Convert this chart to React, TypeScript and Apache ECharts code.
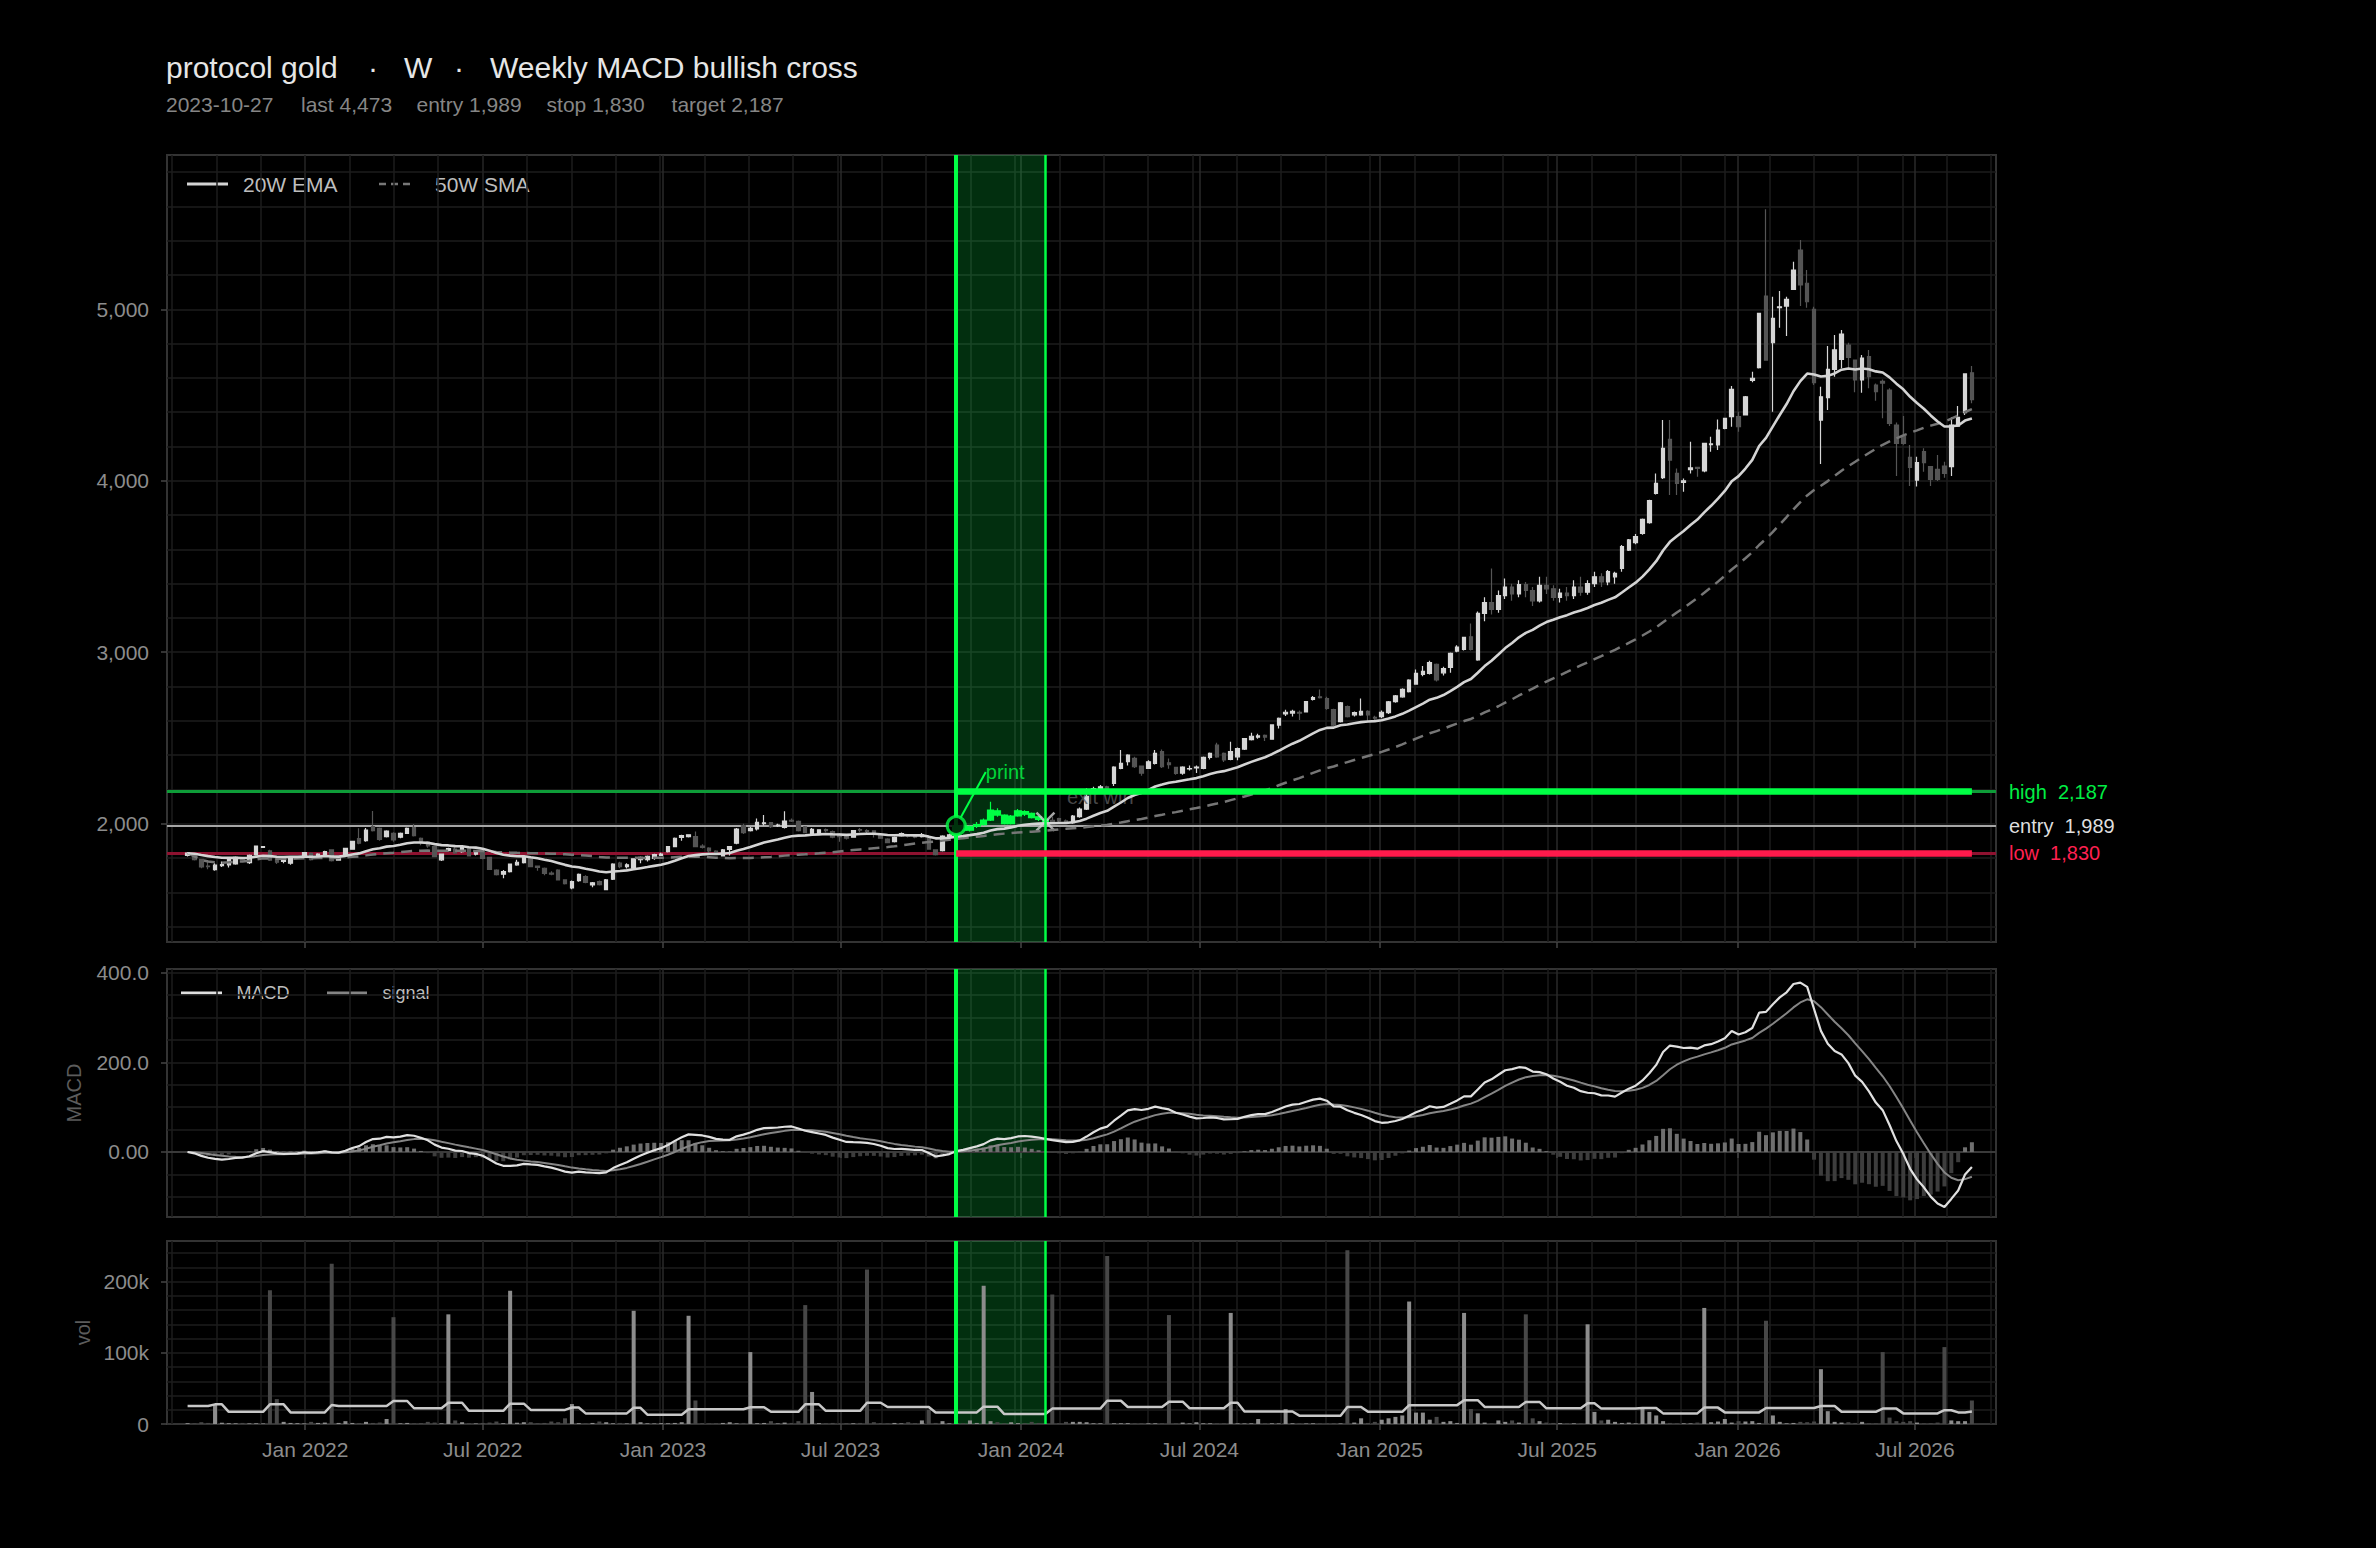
import React, { useEffect, useRef } from "react";
import * as echarts from "echarts";

// ---------------- data ----------------
const FIRST_WEEK = "2021-09-03";
const ENTRY_DATE = "2023-10-27";
const EXIT_DATE = "2024-01-26";
const entryPrice = 1989;
const stopPrice = 1830;
const targetPrice = 2187;
const lastPrice = 4473;
const exitPrice = 2012;

const TITLE_NAME = "protocol gold";
const TITLE_TF = "W";
const TITLE_SIGNAL = "Weekly MACD bullish cross";

const openP = [
  1815, 1812, 1792, 1752, 1732, 1755, 1760, 1765, 1800, 1773,
  1820, 1862, 1841, 1798, 1780, 1770, 1801, 1808, 1827, 1804,
  1816, 1847, 1788, 1812, 1851, 1913, 1901, 1983, 1973, 1925,
  1944, 1921, 1944, 1977, 1915, 1893, 1866, 1789, 1843, 1852,
  1837, 1862, 1822, 1837, 1803, 1730, 1705, 1720, 1760, 1773,
  1796, 1752, 1740, 1712, 1730, 1672, 1625, 1668, 1692, 1643,
  1662, 1615, 1676, 1770, 1750, 1740, 1790, 1790, 1797, 1815,
  1837, 1866, 1920, 1925, 1925, 1870, 1858, 1840, 1812, 1850,
  1886, 1989, 1960, 1969, 2000, 2006, 1988, 1979, 2020, 2014,
  1982, 1944, 1944, 1966, 1954, 1940, 1930, 1921, 1965, 1960,
  1958, 1935, 1910, 1895, 1930, 1930, 1930, 1925, 1915, 1847,
  1843, 1925, 1935, 1987, 1962, 1985, 1995, 2021, 2075, 2050,
  2000, 2045, 2070, 2060, 2040, 2025, 2020, 2030, 2016, 2006,
  2041, 2085, 2190, 2205, 2215, 2235, 2323, 2362, 2381, 2336,
  2323, 2352, 2420, 2355, 2328, 2295, 2320, 2325, 2323, 2387,
  2458, 2410, 2375, 2390, 2435, 2490, 2505, 2515, 2493, 2575,
  2640, 2645, 2650, 2652, 2725, 2740, 2730, 2665, 2595, 2683,
  2635, 2635, 2655, 2620, 2625, 2648, 2712, 2740, 2770, 2814,
  2870, 2877, 2930, 2880, 2912, 3007, 3017, 3090, 2955, 3227,
  3290, 3250, 3330, 3380, 3340, 3395, 3360, 3300, 3390, 3370,
  3320, 3345, 3330, 3380, 3350, 3400, 3440, 3410, 3440, 3489,
  3596, 3639, 3693, 3756, 3927, 4018, 4242, 4043, 3990, 4065,
  4078, 4057, 4210, 4209, 4306, 4374, 4374, 4384, 4585, 4660,
  5077, 4805, 5010, 5019, 5116, 5346, 5152, 5000, 4354, 4485,
  4650, 4708, 4792, 4704, 4588, 4724, 4558, 4580, 4529, 4325,
  4257, 4137, 4004, 4170, 4082, 4067, 4086, 4082, 4319, 4397,
  4630,
];

const highP = [
  1835, 1818, 1795, 1778, 1770, 1780, 1795, 1808, 1805, 1820,
  1872, 1870, 1848, 1800, 1797, 1810, 1812, 1834, 1832, 1828,
  1842, 1850, 1806, 1860, 1900, 1973, 1975, 2074, 1978, 1962,
  1950, 1948, 1978, 1998, 1920, 1898, 1870, 1826, 1860, 1862,
  1866, 1866, 1840, 1840, 1806, 1735, 1730, 1768, 1790, 1808,
  1800, 1756, 1745, 1722, 1735, 1676, 1668, 1710, 1700, 1660,
  1668, 1678, 1770, 1778, 1770, 1798, 1808, 1815, 1825, 1830,
  1870, 1920, 1935, 1938, 1955, 1880, 1862, 1845, 1852, 1870,
  1975, 2000, 1980, 2030, 2050, 2010, 2000, 2072, 2030, 2018,
  1986, 1975, 1968, 1972, 1960, 1945, 1935, 1962, 1975, 1968,
  1962, 1940, 1915, 1925, 1948, 1935, 1938, 1945, 1920, 1850,
  1932, 1942, 1995, 1995, 1990, 2010, 2030, 2128, 2090, 2055,
  2050, 2085, 2078, 2065, 2045, 2030, 2040, 2035, 2025, 2050,
  2095, 2206, 2215, 2225, 2222, 2335, 2430, 2405, 2390, 2340,
  2370, 2430, 2433, 2380, 2330, 2335, 2340, 2340, 2392, 2415,
  2472, 2415, 2478, 2445, 2500, 2530, 2525, 2520, 2580, 2620,
  2665, 2665, 2660, 2715, 2745, 2783, 2740, 2670, 2710, 2690,
  2655, 2730, 2662, 2630, 2660, 2715, 2750, 2790, 2842, 2900,
  2920, 2950, 2935, 2915, 2998, 3040, 3090, 3168, 3237, 3320,
  3489, 3360, 3430, 3400, 3420, 3410, 3380, 3440, 3440, 3390,
  3370, 3380, 3420, 3440, 3420, 3470, 3460, 3480, 3470, 3625,
  3660, 3690, 3780, 3890, 4043, 4354, 4354, 4072, 4013, 4228,
  4080, 4222, 4257, 4358, 4368, 4553, 4403, 4495, 4636, 4980,
  5583, 5074, 5107, 5074, 5278, 5404, 5229, 5015, 4549, 4786,
  4850, 4879, 4805, 4704, 4733, 4763, 4568, 4591, 4539, 4340,
  4378, 4209, 4140, 4189, 4086, 4150, 4111, 4370, 4436, 4623,
  4670,
];

const lowP = [
  1808, 1785, 1740, 1734, 1725, 1748, 1745, 1760, 1785, 1765,
  1815, 1858, 1782, 1765, 1770, 1760, 1795, 1804, 1786, 1800,
  1810, 1780, 1784, 1808, 1848, 1880, 1895, 1955, 1900, 1920,
  1895, 1915, 1940, 1925, 1875, 1860, 1805, 1783, 1838, 1824,
  1830, 1808, 1815, 1793, 1730, 1698, 1682, 1715, 1755, 1768,
  1746, 1725, 1700, 1700, 1668, 1645, 1618, 1662, 1652, 1630,
  1640, 1612, 1672, 1740, 1738, 1735, 1770, 1780, 1790, 1812,
  1832, 1862, 1900, 1920, 1862, 1856, 1825, 1818, 1808, 1815,
  1880, 1940, 1955, 1960, 1990, 1975, 1980, 1972, 2010, 1955,
  1944, 1938, 1940, 1950, 1915, 1895, 1908, 1918, 1950, 1945,
  1920, 1912, 1886, 1890, 1925, 1920, 1915, 1920, 1848, 1815,
  1838, 1920, 1930, 1955, 1955, 1975, 1990, 2015, 2040, 1995,
  1995, 2040, 2045, 2030, 2015, 2000, 2005, 2005, 1998, 2000,
  2035, 2080, 2180, 2195, 2190, 2220, 2318, 2340, 2325, 2280,
  2320, 2345, 2325, 2320, 2285, 2285, 2310, 2295, 2318, 2375,
  2385, 2360, 2370, 2370, 2430, 2485, 2495, 2482, 2490, 2555,
  2628, 2625, 2605, 2648, 2718, 2730, 2665, 2570, 2590, 2620,
  2625, 2630, 2595, 2605, 2615, 2640, 2705, 2735, 2765, 2810,
  2860, 2870, 2830, 2865, 2880, 3000, 3010, 3010, 2950, 3180,
  3220, 3230, 3310, 3300, 3320, 3320, 3270, 3290, 3340, 3300,
  3290, 3300, 3310, 3330, 3335, 3380, 3380, 3390, 3400, 3470,
  3590, 3630, 3685, 3750, 3920, 4010, 3917, 3917, 3936, 4043,
  4024, 4050, 4170, 4179, 4300, 4315, 4286, 4380, 4575, 4655,
  4700, 4403, 4893, 4844, 5116, 5019, 5009, 4558, 4098, 4413,
  4607, 4656, 4656, 4516, 4514, 4539, 4467, 4364, 4319, 4028,
  4210, 3969, 3966, 4053, 3969, 3999, 4018, 4028, 4315, 4384,
  4452,
];

const closeP = [
  1828, 1790, 1748, 1750, 1758, 1762, 1790, 1804, 1790, 1816,
  1870, 1866, 1788, 1775, 1792, 1808, 1808, 1831, 1790, 1823,
  1837, 1785, 1800, 1856, 1897, 1886, 1963, 1960, 1909, 1957,
  1905, 1944, 1973, 1930, 1890, 1870, 1808, 1823, 1855, 1830,
  1860, 1812, 1835, 1798, 1734, 1703, 1720, 1765, 1775, 1804,
  1750, 1745, 1710, 1705, 1672, 1650, 1662, 1704, 1657, 1655,
  1645, 1672, 1765, 1750, 1760, 1795, 1803, 1810, 1820, 1822,
  1866, 1915, 1930, 1935, 1866, 1862, 1842, 1823, 1847, 1866,
  1969, 1948, 1973, 2008, 2005, 1983, 1992, 2015, 2015, 1960,
  1948, 1967, 1964, 1960, 1921, 1925, 1915, 1959, 1962, 1955,
  1940, 1915, 1890, 1920, 1942, 1927, 1922, 1935, 1852, 1820,
  1928, 1935, 1989, 1962, 1985, 1995, 2021, 2080, 2050, 2000,
  2045, 2075, 2055, 2035, 2025, 2012, 2012, 2016, 2010, 2045,
  2085, 2160, 2205, 2215, 2200, 2330, 2352, 2400, 2332, 2295,
  2361, 2410, 2332, 2345, 2293, 2330, 2322, 2330, 2387, 2410,
  2390, 2372, 2420, 2438, 2497, 2510, 2512, 2505, 2576, 2615,
  2650, 2655, 2645, 2712, 2735, 2735, 2672, 2575, 2705, 2625,
  2648, 2655, 2635, 2615, 2650, 2711, 2745, 2783, 2838, 2877,
  2888, 2940, 2838, 2905, 2993, 3030, 3087, 3017, 3227, 3290,
  3250, 3330, 3380, 3340, 3395, 3360, 3300, 3390, 3370, 3320,
  3345, 3330, 3380, 3350, 3400, 3440, 3410, 3470, 3460, 3616,
  3655, 3674, 3775, 3884, 3985, 4189, 4121, 3985, 4000, 4075,
  4072, 4218, 4215, 4296, 4364, 4533, 4315, 4490, 4598, 4976,
  4704, 4947, 5015, 5058, 5229, 5142, 5044, 4572, 4490, 4650,
  4763, 4856, 4720, 4588, 4716, 4607, 4520, 4570, 4335, 4218,
  4218, 4078, 4106, 4106, 4008, 4008, 4043, 4325, 4370, 4623,
  4473,
];

const volume = [
  1200, 900, 2500, 1500, 27000, 1800, 1200, 1000, 1500, 900,
  1200, 800, 188000, 35000, 3000, 1500, 1200, 900, 3000, 1500,
  2000, 225000, 1500, 4000, 1500, 1200, 3000, 1500, 2000, 7000,
  150000, 1000, 1500, 800, 1200, 3000, 2000, 1000, 154000, 5000,
  2500, 1000, 800, 1500, 2000, 3500, 1200, 187000, 1800, 2500,
  2500, 1000, 1500, 3500, 2500, 8000, 28000, 1200, 800, 1500,
  3500, 2500, 1000, 1500, 800, 159000, 2500, 1000, 800, 1200,
  1000, 1500, 2500, 152000, 33000, 1200, 800, 1000, 1500, 2500,
  1000, 1500, 101000, 1200, 1500, 4000, 800, 2000, 1500, 4000,
  167000, 45000, 1200, 1000, 1500, 800, 1200, 1000, 1500, 217000,
  2500, 1200, 1000, 1500, 800, 2500, 1200, 5000, 20000, 1500,
  4000, 1000, 1500, 1200, 5000, 1500, 194000, 4000, 2500, 1000,
  2500, 1200, 1000, 3000, 1500, 800, 182000, 1000, 3000, 3000,
  3000, 2500, 1000, 1000, 236000, 1000, 1000, 1200, 800, 1000,
  1000, 1000, 1000, 153000, 1000, 2000, 800, 2500, 1000, 1000,
  800, 1000, 156000, 1000, 800, 1000, 7000, 1000, 1000, 800,
  21000, 1000, 1000, 800, 1000, 800, 1000, 1200, 800, 244000,
  2000, 8000, 1500, 3000, 6000, 8000, 10000, 12000, 172000, 16000,
  16000, 6000, 10000, 3000, 4000, 1500, 156000, 21000, 15000, 2000,
  800, 5000, 3000, 5000, 2000, 154000, 8000, 4000, 2000, 1500,
  1200, 1000, 1000, 800, 140000, 17000, 5000, 6000, 3000, 1500,
  2000, 1000, 23000, 17000, 12000, 4000, 1500, 1000, 1000, 800,
  2000, 163000, 2500, 3500, 7000, 2000, 4000, 3500, 4000, 1500,
  145000, 12000, 3000, 1000, 1500, 3000, 2500, 3500, 77000, 18000,
  3000, 2000, 2500, 1500, 3000, 1000, 800, 101000, 9000, 4000,
  3000, 4000, 2000, 800, 1000, 2000, 108000, 5000, 4000, 4000,
  33000,
];

// volume average line
const volumeAvg = [
  25200, 25200, 25200, 25200, 27600, 27600, 17100, 17100, 17100, 17100,
  17100, 17100, 27600, 27600, 27600, 16300, 16300, 16300, 16300, 16300,
  16300, 26700, 25200, 25200, 25200, 25200, 25200, 25200, 25200, 25200,
  32300, 32300, 32300, 22100, 22100, 22100, 22100, 22100, 29900, 29900,
  29900, 18500, 18500, 18500, 18500, 18500, 18500, 28600, 28600, 28600,
  19800, 19800, 19800, 19800, 19800, 19800, 23100, 23100, 14900, 14900,
  14900, 14900, 14900, 14900, 14900, 22700, 22700, 13100, 13100, 13100,
  13100, 13100, 13100, 20800, 20800, 20800, 20800, 20800, 20800, 20800,
  20800, 20800, 23500, 23500, 23500, 17100, 17100, 17100, 17100, 17100,
  27600, 27600, 27600, 18500, 18500, 18500, 18500, 18500, 18500, 29900,
  29900, 29900, 23900, 23900, 23900, 23900, 23900, 23900, 23900, 16300,
  16300, 16300, 16300, 16300, 16300, 16300, 24400, 24400, 24400, 14000,
  14000, 14000, 14000, 14000, 14000, 14000, 21600, 21600, 21600, 21600,
  21600, 21600, 21600, 21600, 32700, 32700, 32700, 23900, 23900, 23900,
  23900, 23900, 23900, 31400, 31400, 31400, 22100, 22100, 22100, 22100,
  22100, 22100, 29900, 29900, 17600, 17600, 17600, 17600, 17600, 17600,
  17600, 17600, 11700, 11700, 11700, 11700, 11700, 11700, 11700, 23900,
  23900, 23900, 17100, 17100, 17100, 17100, 17100, 17100, 26500, 26500,
  26500, 26500, 26500, 26500, 26500, 26500, 33500, 33500, 33500, 23900,
  23900, 23900, 23900, 23900, 23900, 31000, 31000, 31000, 22000, 22000,
  22000, 22000, 22000, 22000, 29000, 29000, 21600, 21600, 21600, 21600,
  21600, 21600, 22500, 22500, 22500, 14900, 14900, 14900, 14900, 14900,
  14900, 23000, 23000, 23000, 16300, 16300, 16300, 16300, 16300, 16300,
  22500, 22500, 22500, 22500, 22500, 22500, 22500, 22500, 25200, 25200,
  25200, 17100, 17100, 17100, 17100, 17100, 17100, 21600, 21600, 21600,
  14900, 14900, 14900, 14900, 14900, 14900, 19400, 19400, 16300, 16300,
  17600,
];

const xLabelDates = [
  "2022-01-01", "2022-07-01", "2023-01-01", "2023-07-01", "2024-01-01",
  "2024-07-01", "2025-01-01", "2025-07-01", "2026-01-01", "2026-07-01",
];
const priceTicks = [2000, 3000, 4000, 5000];
const macdTicks = [0, 200, 400];
const volTicks = [0, 100000, 200000];

// ---------------- helpers ----------------
const FONT = '"Liberation Sans", Arial, Helvetica, sans-serif';
const DAY = 86400000;
const toT = (s: string) => Date.parse(s + "T00:00:00Z");
const fmt = (v: number) => v.toLocaleString("en-US");
const MONTHS = ["Jan", "Feb", "Mar", "Apr", "May", "Jun", "Jul", "Aug", "Sep", "Oct", "Nov", "Dec"];

function ema(values: number[], n: number) {
  const k = 2 / (n + 1);
  const out: number[] = [];
  values.forEach((v, i) => out.push(i === 0 ? v : v * k + out[i - 1] * (1 - k)));
  return out;
}
function sma(values: number[], n: number) {
  return values.map((_, i) => {
    const w = values.slice(Math.max(0, i - n + 1), i + 1);
    return w.reduce((a, b) => a + b, 0) / w.length;
  });
}
function steps(from: number, to: number, step: number) {
  const out: number[] = [];
  for (let v = from; v <= to + 1e-9; v += step) out.push(v);
  return out;
}

const GREEN = "#00ff44";
const RED = "#ff1a4b";
const LABEL_COLOR = "#8c8c8c";
const TICK_COLOR = "#444";
const MAJOR_GRID = "#2a2a2a";
const MINOR_GRID = "#1c1c1c";

function buildOption() {
  const t0 = toT(FIRST_WEEK);
  const weeks = closeP.map((_, i) => t0 + i * 7 * DAY);
  const entryT = toT(ENTRY_DATE);
  const exitT = toT(EXIT_DATE);
  const lastT = weeks[weeks.length - 1];
  const entryIdx = weeks.indexOf(entryT);
  const exitIdx = weeks.indexOf(exitT);

  const X_MIN = toT("2021-08-13");
  const X_MAX = toT("2026-09-21") + 14 * 3600000;
  const majorX = xLabelDates.map(toT);
  const minorX: number[] = [];
  for (let t = toT("2021-08-18"); t < X_MAX; t += 45.26 * DAY) minorX.push(t);

  const ema20 = ema(closeP, 20);
  const sma50 = sma(closeP, 50);
  const e12 = ema(closeP, 12);
  const e26 = ema(closeP, 26);
  const macd = e12.map((v, i) => v - e26[i]);
  const signal = ema(macd, 9);
  const hist = macd.map((v, i) => v - signal[i]);

  const isTrade = (i: number) => i >= entryIdx && i <= exitIdx;
  const candles: any[] = [];
  const tradeCandles: any[] = [];
  weeks.forEach((t, i) => {
    const item = [t, openP[i], closeP[i], lowP[i], highP[i]];
    (isTrade(i) ? tradeCandles : candles).push(item);
  });

  const xAxisPair = (gridIndex: number, showLabels: boolean) => [
    {
      type: "value", gridIndex, min: X_MIN, max: X_MAX, position: "bottom",
      axisLine: { show: false },
      axisTick: { show: true, customValues: majorX, length: 6, lineStyle: { color: TICK_COLOR, width: 1.5 } },
      axisLabel: {
        show: showLabels, customValues: majorX, color: LABEL_COLOR, fontSize: 21, margin: 15, fontFamily: FONT,
        formatter: (v: number) => { const d = new Date(v); return `${MONTHS[d.getUTCMonth()]} ${d.getUTCFullYear()}`; },
      },
      splitLine: { show: true, lineStyle: { color: MAJOR_GRID, width: 1.5 } },
    },
    {
      type: "value", gridIndex, min: X_MIN, max: X_MAX, position: "top",
      axisLine: { show: false },
      axisTick: { show: false, customValues: minorX },
      axisLabel: { show: false },
      splitLine: { show: true, lineStyle: { color: MINOR_GRID, width: 1.5 } },
    },
  ];

  const yAxisPair = (gridIndex: number, min: number, max: number, ticks: number[], gridVals: number[], formatter: (v: number) => string, name?: string, nameGap?: number) => [
    {
      type: "value", gridIndex, min, max, position: "left",
      axisLine: { show: false },
      axisTick: { show: true, customValues: ticks, length: 6, lineStyle: { color: TICK_COLOR, width: 1.5 } },
      axisLabel: { customValues: ticks, formatter, color: LABEL_COLOR, fontSize: 21, margin: 18, fontFamily: FONT },
      splitLine: { show: false },
      name, nameLocation: "middle", nameRotate: 90, nameGap,
      nameTextStyle: { color: "#5c5c5c", fontSize: 20, fontFamily: FONT },
    },
    {
      type: "value", gridIndex, min, max, position: "left",
      axisLine: { show: false },
      axisTick: { show: false, customValues: gridVals },
      axisLabel: { show: false },
      splitLine: { show: true, lineStyle: { color: MINOR_GRID, width: 1.5 } },
    },
  ];

  const bandSeries = (xi: number, yi: number) => ({
    type: "line", xAxisIndex: xi, yAxisIndex: yi, data: [], silent: true, symbol: "none",
    markArea: {
      silent: true, z: 1,
      itemStyle: { color: "rgba(10,255,80,0.185)" },
      data: [[{ xAxis: entryT }, { xAxis: exitT }]],
    },
    markLine: {
      silent: true, z: 6, symbol: ["none", "none"], label: { show: false },
      lineStyle: { type: "solid" },
      data: [
        { xAxis: entryT, lineStyle: { color: GREEN, width: 4, type: "solid" } },
        { xAxis: exitT, lineStyle: { color: GREEN, width: 2.5, type: "solid" } },
      ],
    },
  });

  const gridBase = { left: 167, width: 1829, show: true, borderColor: "#333", borderWidth: 2, backgroundColor: "transparent", containLabel: false, outerBoundsMode: "none" };

  const txt = (x: number, y: number, text: string, fill: string, fontSize: number, align = "left") => ({
    type: "text", x, y, silent: true,
    style: { text, fill, fontSize, fontFamily: FONT, align, verticalAlign: "middle" },
  });
  const seg = (x1: number, x2: number, y: number, stroke: string, lineWidth: number, lineDash?: number[]) => ({
    type: "line", silent: true, shape: { x1, y1: y, x2, y2: y },
    style: { stroke, lineWidth, lineDash },
  });

  return {
    animation: false,
    backgroundColor: "#000",
    textStyle: { fontFamily: FONT },
    grid: [
      { ...gridBase, top: 155, height: 787 },
      { ...gridBase, top: 969, height: 248 },
      { ...gridBase, top: 1241, height: 183 },
    ],
    xAxis: [...xAxisPair(0, false), ...xAxisPair(1, false), ...xAxisPair(2, true)],
    yAxis: [
      ...yAxisPair(0, 1310, 5900, priceTicks, steps(1400, 5800, 200), (v) => fmt(v)),
      ...yAxisPair(1, -145, 408, macdTicks, steps(-100, 400, 50), (v) => (v === 0 ? "0.00" : v.toFixed(1)), "MACD", 83),
      ...yAxisPair(2, 0, 257000, volTicks, steps(20000, 240000, 20000), (v) => (v === 0 ? "0" : `${v / 1000}k`), "vol", 74),
    ],
    graphic: [
      txt(166, 67, TITLE_NAME, "#e6e6e6", 30),
      txt(373, 67, "·", "#e6e6e6", 30, "center"),
      txt(404, 67, TITLE_TF, "#e6e6e6", 30),
      txt(459, 67, "·", "#e6e6e6", 30, "center"),
      txt(490, 67, TITLE_SIGNAL, "#e6e6e6", 30),
      txt(166, 104, ENTRY_DATE, "#868686", 21),
      txt(301, 104, `last ${fmt(lastPrice)}`, "#868686", 21),
      txt(416.5, 104, `entry ${fmt(entryPrice)}`, "#868686", 21),
      txt(546.6, 104, `stop ${fmt(stopPrice)}`, "#868686", 21),
      txt(671.6, 104, `target ${fmt(targetPrice)}`, "#868686", 21),
      seg(187, 228, 184, "#d4d4d4", 3),
      txt(243, 184, "20W EMA", "#bdbdbd", 21),
      seg(379, 415, 184, "#777", 2.5, [7, 5]),
      txt(435, 184, "50W SMA", "#bdbdbd", 21),
      seg(181, 222, 993, "#e0e0e0", 3),
      txt(236.5, 993, "MACD", "#bdbdbd", 18),
      seg(327, 367, 993, "#858585", 3),
      txt(382.5, 993, "signal", "#bdbdbd", 18),
    ],
    series: [
      // ---- price panel ----
      bandSeries(0, 0),
      {
        type: "line", xAxisIndex: 0, yAxisIndex: 0, data: [], silent: true, symbol: "none",
        markLine: {
          silent: true, z: 1.5, symbol: ["none", "none"],
          label: { show: true, position: "end", distance: 13, fontSize: 20, fontFamily: FONT },
          data: [
            { yAxis: targetPrice, lineStyle: { color: "#0e9c38", width: 3, type: "solid" }, label: { formatter: `high\u00a0\u00a0${fmt(targetPrice)}`, color: "#00ee44" } },
            { yAxis: entryPrice, lineStyle: { color: "#a6a6a6", width: 2, type: "solid" }, label: { formatter: `entry\u00a0\u00a0${fmt(entryPrice)}`, color: "#dedede" } },
            { yAxis: stopPrice, lineStyle: { color: "#8e1230", width: 3, type: "solid" }, label: { formatter: `low\u00a0\u00a0${fmt(stopPrice)}`, color: "#ff2050" } },
          ],
        },
      },
      {
        type: "candlestick", xAxisIndex: 0, yAxisIndex: 0, data: candles, barWidth: 4, z: 2,
        itemStyle: { color: "#d6d6d6", color0: "#555555", borderColor: "#d6d6d6", borderColor0: "#555555", borderWidth: 1.2 },
      },
      {
        type: "candlestick", xAxisIndex: 0, yAxisIndex: 0, data: tradeCandles, barWidth: 7, z: 3,
        itemStyle: { color: GREEN, color0: GREEN, borderColor: GREEN, borderColor0: GREEN, borderWidth: 1.2 },
      },
      {
        type: "line", xAxisIndex: 0, yAxisIndex: 0, data: weeks.map((t, i) => [t, sma50[i]]), symbol: "none", z: 4,
        lineStyle: { color: "#767676", width: 2.5, type: [11, 7] },
      },
      {
        type: "line", xAxisIndex: 0, yAxisIndex: 0, data: weeks.map((t, i) => [t, ema20[i]]), symbol: "none", z: 4,
        lineStyle: { color: "#d4d4d4", width: 2.6 },
      },
      {
        type: "scatter", xAxisIndex: 0, yAxisIndex: 0, data: [[exitT, exitPrice]], z: 3,
        symbol: "path://M0,0L10,10M10,0L0,10", symbolSize: 18,
        itemStyle: { color: "none", borderColor: "#cfcfcf", borderWidth: 2.5 },
        label: { show: true, formatter: "exit win", position: "right", distance: 10, offset: [0, -25], color: "#5a5a5a", fontSize: 20, fontFamily: FONT },
      },
      {
        type: "line", xAxisIndex: 0, yAxisIndex: 0, data: [], silent: true, symbol: "none",
        markLine: {
          silent: true, z: 7, symbol: ["none", "none"], label: { show: false },
          data: [
            [{ coord: [entryT, targetPrice], lineStyle: { color: GREEN, width: 6.5, type: "solid" } }, { coord: [lastT, targetPrice] }],
            [{ coord: [entryT, stopPrice], lineStyle: { color: RED, width: 6.5, type: "solid" } }, { coord: [lastT, stopPrice] }],
          ],
        },
      },
      {
        type: "scatter", xAxisIndex: 0, yAxisIndex: 0, data: [[entryT, entryPrice]], z: 8,
        symbol: "circle", symbolSize: 18,
        itemStyle: { color: "#000", borderColor: GREEN, borderWidth: 3.2 },
        label: { show: true, formatter: "print", position: "top", color: GREEN, fontSize: 20, fontFamily: FONT },
        labelLayout: { dx: 49, dy: -28 },
        labelLine: { show: true, lineStyle: { color: GREEN, width: 2 } },
      },
      // ---- MACD panel ----
      bandSeries(2, 2),
      {
        type: "line", xAxisIndex: 2, yAxisIndex: 2, data: [], silent: true, symbol: "none",
        markLine: { silent: true, z: 1.5, symbol: ["none", "none"], label: { show: false }, data: [{ yAxis: 0, lineStyle: { color: "#3a3a3a", width: 2, type: "solid" } }] },
      },
      {
        type: "bar", xAxisIndex: 2, yAxisIndex: 2, barWidth: 4, z: 2,
        data: hist.map((h, i) => ({ value: [weeks[i], h], itemStyle: { color: h >= 0 ? "#6f6f6f" : "#3d3d3d" } })),
      },
      {
        type: "line", xAxisIndex: 2, yAxisIndex: 2, data: weeks.map((t, i) => [t, signal[i]]), symbol: "none", z: 3,
        lineStyle: { color: "#858585", width: 2 },
      },
      {
        type: "line", xAxisIndex: 2, yAxisIndex: 2, data: weeks.map((t, i) => [t, macd[i]]), symbol: "none", z: 4,
        lineStyle: { color: "#e0e0e0", width: 2.2 },
      },
      // ---- volume panel ----
      bandSeries(4, 4),
      {
        type: "bar", xAxisIndex: 4, yAxisIndex: 4, barWidth: 4, z: 2,
        data: volume.map((v, i) => ({ value: [weeks[i], v], itemStyle: { color: closeP[i] >= openP[i] ? "#8c8c8c" : "#474747" } })),
      },
      {
        type: "line", xAxisIndex: 4, yAxisIndex: 4, data: weeks.map((t, i) => [t, volumeAvg[i]]), symbol: "none", z: 3,
        lineStyle: { color: "#c8c8c8", width: 2.5 },
      },
    ],
  };
}

export default function App() {
  const ref = useRef<HTMLDivElement>(null);
  useEffect(() => {
    document.body.style.margin = "0";
    document.body.style.background = "#000";
    const chart = echarts.init(ref.current!, null, { renderer: "svg" });
    chart.setOption(buildOption() as any);
    return () => chart.dispose();
  }, []);
  return (
    <div
      ref={ref}
      style={{ position: "absolute", left: 0, top: 0, width: 2376, height: 1548, background: "#000" }}
    />
  );
}
